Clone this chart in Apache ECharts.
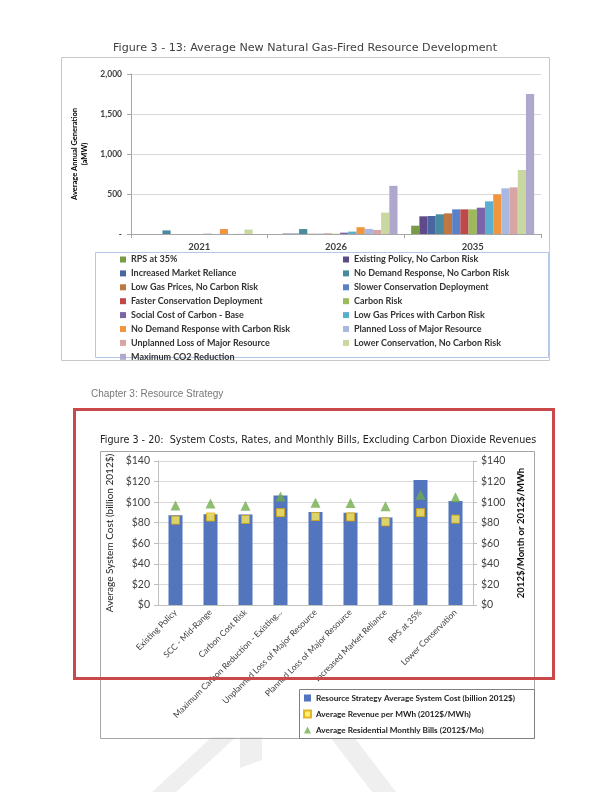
<!DOCTYPE html>
<html><head><meta charset="utf-8">
<script src="https://cdn.jsdelivr.net/npm/echarts@6/dist/echarts.min.js"></script>
<style>html,body{margin:0;padding:0;background:#fff}#c{width:612px;height:792px}</style>
</head><body><div id="c"></div>
<script>
// ---- Figure 3-13 data ----
const years = ['2021', '2026', '2035'];
const genNames = [
  'RPS at 35%', 'Existing Policy, No Carbon Risk', 'Increased Market Reliance',
  'No Demand Response, No Carbon Risk', 'Low Gas Prices, No Carbon Risk',
  'Slower Conservation Deployment', 'Faster Conservation Deployment', 'Carbon Risk',
  'Social Cost of Carbon - Base', 'Low Gas Prices with Carbon Risk',
  'No Demand Response with Carbon Risk', 'Planned Loss of Major Resource',
  'Unplanned Loss of Major Resource', 'Lower Conservation, No Carbon Risk',
  'Maximum CO2 Reduction'
];
const rps35 = [0, 0, 104];
const existingNoCR = [0, 5, 221];
const increasedMkt = [0, 5, 225];
const noDRNoCR = [45, 62, 246];
const lowGasNoCR = [0, 3, 258];
const slowerCons = [0, 3, 308];
const fasterCons = [0, 5, 308];
const carbonRisk = [0, 3, 308];
const sccBase = [3, 17, 329];
const lowGasCR = [0, 30, 408];
const noDRCR = [62, 85, 496];
const plannedLoss = [0, 64, 571];
const unplannedLoss = [2, 51, 583];
const lowerConsNoCR = [55, 267, 800];
const maxCO2 = [0, 602, 1750];
const genValues = [rps35, existingNoCR, increasedMkt, noDRNoCR, lowGasNoCR, slowerCons,
  fasterCons, carbonRisk, sccBase, lowGasCR, noDRCR, plannedLoss, unplannedLoss, lowerConsNoCR, maxCO2];
const genColors = ['#7A9A48', '#5E4A8A', '#4A66A0', '#4A8AA0', '#C07840', '#5A80C8', '#C04848',
  '#9CBB58', '#7C64A8', '#5AAFCF', '#F0963F', '#A8B8E0', '#D8A4A4', '#C8D8A0', '#B0A8CC'];

// ---- Figure 3-20 data ----
const strategies = ['Existing Policy', 'SCC - Mid-Range', 'Carbon Cost Risk',
  'Maximum Carbon Reduction - Existing...', 'Unplanned Loss of Major Resource',
  'Planned Loss of Major Resource', 'Increased Market Reliance', 'RPS at 35%', 'Lower Conservation'];
const systemCost = [87.3, 88.2, 87.9, 106.5, 90.5, 89.8, 85.0, 121.5, 101.0];
const revenuePerMWh = [82.5, 85.5, 83.2, 89.8, 86.0, 85.6, 80.8, 89.8, 83.5];
const monthlyBills = [96.8, 98.7, 96.6, 105.4, 99.4, 99.1, 95.9, 107.3, 104.8];
const costNames = ['Resource Strategy Average System Cost (billion 2012$)',
  'Average Revenue per MWh (2012$/MWh)', 'Average Residential Monthly Bills (2012$/Mo)'];

const F = 'Lato, "Open Sans", sans-serif';
const chart = echarts.init(document.getElementById('c'), null, {renderer: 'canvas'});

const genSeries = genNames.map((n, i) => ({
  name: n, type: 'bar', xAxisIndex: 0, yAxisIndex: 0,
  data: genValues[i], itemStyle: {color: genColors[i]},
  barGap: '0%', barCategoryGap: '10%'
}));

const legText = {fontFamily: F, fontSize: 9, fontWeight: 'bold', color: '#333', lineHeight: 10};

const option = {
  animation: false,
  backgroundColor: '#fff',
  grid: [
    {left: 131, top: 74, width: 410, height: 160},
    {left: 158, top: 461, width: 315, height: 144}
  ],
  xAxis: [
    {gridIndex: 0, type: 'category', data: years,
     axisLine: {lineStyle: {color: '#A6A6A6'}},
     axisTick: {show: true, lineStyle: {color: '#A6A6A6'}, length: 4},
     axisLabel: {fontFamily: F, fontSize: 9.5, fontWeight: 'bold', color: '#404040', margin: 8}},
    {gridIndex: 1, type: 'category', data: strategies,
     axisLine: {lineStyle: {color: '#BFBFBF'}},
     axisTick: {show: false},
     axisLabel: {fontFamily: F, fontSize: 8.5, color: '#404040', rotate: 45, margin: 6, interval: 0}}
  ],
  yAxis: [
    {gridIndex: 0, type: 'value', min: 0, max: 2000, interval: 500,
     name: 'Average Annual Generation\n(aMW)', nameLocation: 'middle', nameGap: 40, nameRotate: 90,
     nameTextStyle: {fontFamily: F, fontSize: 7.5, fontWeight: 'bold', color: '#000', lineHeight: 10},
     axisLine: {show: true, lineStyle: {color: '#A6A6A6'}},
     axisTick: {show: true, length: 4, lineStyle: {color: '#A6A6A6'}},
     splitLine: {lineStyle: {color: '#D9D9D9'}},
     axisLabel: {fontFamily: F, fontSize: 8.5, fontWeight: 'bold', color: '#404040', margin: 9,
       formatter: v => v === 0 ? '-' : v.toLocaleString('en-US')}},
    {gridIndex: 1, type: 'value', min: 0, max: 140, interval: 20, position: 'left',
     name: 'Average System Cost (billion 2012$)', nameLocation: 'middle', nameGap: 40, nameRotate: 90,
     nameTextStyle: {fontFamily: F, fontSize: 10, color: '#222'},
     axisLine: {show: true, lineStyle: {color: '#BFBFBF'}},
     axisTick: {show: true, length: 4, lineStyle: {color: '#BFBFBF'}},
     splitLine: {lineStyle: {color: '#D9D9D9'}},
     axisLabel: {fontFamily: F, fontSize: 10.5, color: '#404040', margin: 8, formatter: v => '$' + v}},
    {gridIndex: 1, type: 'value', min: 0, max: 140, interval: 20, position: 'right',
     name: '2012$/Month or 2012$/MWh', nameLocation: 'middle', nameGap: 42, nameRotate: 90,
     nameTextStyle: {fontFamily: F, fontSize: 9.5, fontWeight: 'bold', color: '#111'},
     axisLine: {show: true, lineStyle: {color: '#BFBFBF'}},
     axisTick: {show: true, length: 4, lineStyle: {color: '#BFBFBF'}},
     splitLine: {show: false},
     axisLabel: {fontFamily: F, fontSize: 10.5, color: '#404040', margin: 8, formatter: v => '$' + v}}
  ],
  legend: [
    {data: genNames.filter((_, i) => i % 2 === 0), orient: 'vertical', left: 120, top: 254.5, padding: 0,
     itemWidth: 6, itemHeight: 6, itemGap: 3.9, icon: 'rect', selectedMode: false, textStyle: legText},
    {data: genNames.filter((_, i) => i % 2 === 1), orient: 'vertical', left: 343, top: 254.5, padding: 0,
     itemWidth: 6, itemHeight: 6, itemGap: 3.9, icon: 'rect', selectedMode: false, textStyle: legText},
    {data: [{name: costNames[0], icon: 'rect'}, {name: costNames[1], icon: 'rect'}, {name: costNames[2], icon: 'triangle'}],
     orient: 'vertical', left: 303, top: 693, padding: 0, itemWidth: 7, itemHeight: 7, itemGap: 6, selectedMode: false,
     textStyle: {fontFamily: F, fontSize: 8.2, fontWeight: 'bold', color: '#222', lineHeight: 10}}
  ],
  series: genSeries.concat([
    {name: costNames[0], type: 'bar', xAxisIndex: 1, yAxisIndex: 1, data: systemCost,
     barWidth: '40%', itemStyle: {color: '#5275BE'}},
    {name: costNames[1], type: 'scatter', xAxisIndex: 1, yAxisIndex: 2, data: revenuePerMWh,
     symbol: 'rect', symbolSize: 8, itemStyle: {color: '#FFEB55', borderColor: '#D9A400', borderWidth: 1}},
    {name: costNames[2], type: 'scatter', xAxisIndex: 1, yAxisIndex: 2, data: monthlyBills,
     symbol: 'triangle', symbolSize: 10, itemStyle: {color: '#72AE4E'}}
  ]),
  graphic: [
    {type: 'polygon', shape: {points: [[152, 792], [176, 792], [236, 737], [212, 737]]}, style: {fill: '#EFEFEF'}, z: -5},
    {type: 'polygon', shape: {points: [[240, 737], [262, 737], [262, 760], [240, 768]]}, style: {fill: '#EFEFEF'}, z: -5},
    {type: 'polygon', shape: {points: [[330, 737], [354, 737], [396, 792], [372, 792]]}, style: {fill: '#EFEFEF'}, z: -5},
    {type: 'rect', shape: {x: 61.5, y: 57.5, width: 488, height: 303}, style: {fill: null, stroke: '#C8C8C8', lineWidth: 1}, z: -1},
    {type: 'rect', shape: {x: 95.5, y: 252.5, width: 453, height: 105}, style: {fill: null, stroke: '#B4C6E7', lineWidth: 1}, z: -1},
    {type: 'text', x: 113, y: 43, scaleX: 1.06, style: {text: 'Figure 3 - 13: Average New Natural Gas-Fired Resource Development',
      font: '10.5px "DejaVu Sans"', fill: '#404040'}},
    {type: 'text', x: 91, y: 389, style: {text: 'Chapter 3: Resource Strategy', font: '10px "Liberation Sans"', fill: '#777'}},
    {type: 'rect', shape: {x: 74.5, y: 409.5, width: 479, height: 269}, style: {fill: null, stroke: '#C9484A', lineWidth: 3}, z: 10},
    {type: 'rect', shape: {x: 100.5, y: 451.5, width: 434, height: 287}, style: {fill: null, stroke: '#A6A6A6', lineWidth: 1}, z: -1},
    {type: 'rect', shape: {x: 299.5, y: 689.5, width: 235, height: 49}, style: {fill: '#fff', stroke: '#7F7F7F', lineWidth: 1}, z: -1},
    {type: 'text', x: 100, y: 435, scaleX: 0.916, style: {text: 'Figure 3 - 20:  System Costs, Rates, and Monthly Bills, Excluding Carbon Dioxide Revenues',
      font: '10.5px "DejaVu Sans"', fill: '#222'}}
  ]
};
chart.setOption(option);
</script></body></html>
